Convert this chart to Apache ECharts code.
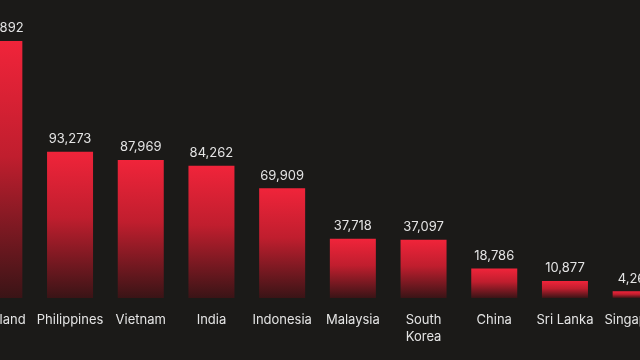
<!DOCTYPE html>
<html><head><meta charset="utf-8">
<script src="https://cdn.jsdelivr.net/npm/echarts@6/dist/echarts.min.js"></script>
<style>html,body{margin:0;padding:0;background:#1b1a18;overflow:hidden;width:640px;height:360px;position:relative}#c{position:absolute;left:-36px;top:0;width:707px;height:360px}</style>
</head><body><div id="c"></div>
<script>
const categories = ['Thailand','Philippines','Vietnam','India','Indonesia','Malaysia','South\nKorea','China','Sri Lanka','Singapore'];
const values = [163892, 93273, 87969, 84262, 69909, 37718, 37097, 18786, 10877, 4260];

const chart = echarts.init(document.getElementById('c'));
chart.setOption({
  backgroundColor: '#1b1a18',
  animation: false,
  grid: {left: 0, right: 0, top: 0, bottom: 62, outerBoundsMode: 'none'},
  xAxis: {
    type: 'category', data: categories,
    axisLine: {show: false}, axisTick: {show: false},
    axisLabel: {color: '#e4e4e4', fontFamily: 'Inter', fontSize: 13, margin: 14, lineHeight: 17, interval: 0}
  },
  yAxis: {type: 'value', min: 0, max: 190000, show: false, splitLine: {show: false}},
  series: [{
    type: 'bar', data: values, barWidth: 46,
    itemStyle: {
      color: new echarts.graphic.LinearGradient(0, 0, 0, 1, [
        {offset: 0, color: '#f0243a'},
        {offset: 0.45, color: '#c01e2e'},
        {offset: 1, color: '#3a1416'}
      ])
    },
    label: {
      show: true, position: 'top', distance: 6,
      color: '#e4e4e4', fontFamily: 'Inter', fontSize: 13,
      formatter: p => p.value.toLocaleString('en-US')
    }
  }]
});
</script></body></html>
